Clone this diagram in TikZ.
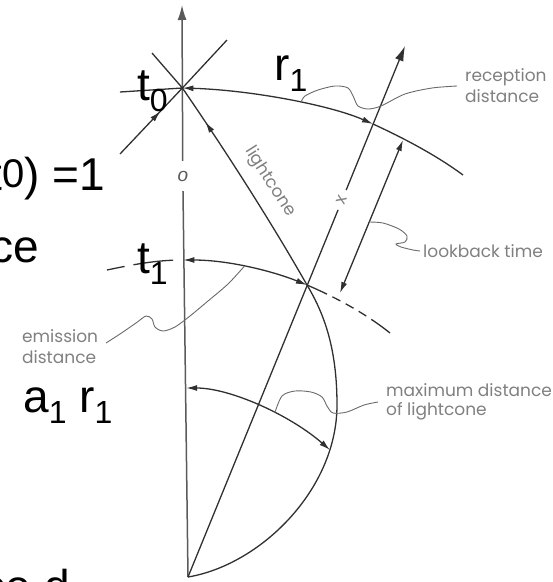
\documentclass[tikz,border=0pt]{standalone}
\usepackage{fontspec}
\setmainfont{Liberation Sans}
\newfontfamily\labfont{Poppins}
\usetikzlibrary{arrows.meta,decorations.markings,calc}
\definecolor{lc}{HTML}{303030}
\definecolor{axc}{HTML}{5a5a5a}
\definecolor{tc}{HTML}{808080}
\definecolor{ldc}{HTML}{6a6a6a}
\newcommand{\mysub}[1]{\raisebox{-11pt}{\fontsize{32}{32}\selectfont #1}}
\tikzset{Hd/.tip={Latex[length=11pt,width=6pt]},Hb/.tip={Latex[length=15pt,width=9pt]}}
\begin{document}
\begin{tikzpicture}[x=1pt,y=-1pt,
 ln/.style={draw=lc,line width=1.3pt},
 axl/.style={draw=axc,line width=1.5pt},
 ld/.style={draw=ldc,line width=0.9pt},
 big/.style={font=\fontsize{46}{50}\selectfont,inner sep=0pt,text=black},
 lab/.style={font=\labfont\fontsize{17}{21}\selectfont,text=tc,inner sep=0pt,align=left},
 markarr/.style={postaction={decorate},decoration={markings,mark=at position #1 with {\arrow{Hd}}}},
]
\useasboundingbox (0,0) rectangle (553,582);
% points
\coordinate (O) at (188,577);
\coordinate (T0) at (182.4,88);
\coordinate (AxTop) at (182,5);
\coordinate (E) at (307,285);
\coordinate (M) at (337,405);
\coordinate (Wtip) at (405,46);
\coordinate (X1) at (373,124);
\coordinate (R2) at (463,175);
\coordinate (A1) at (183.3,260);
\coordinate (A2) at (186.2,388);
\coordinate (Mx) at (330,450);
\coordinate (Et) at (390,333);
\coordinate (Lt) at (107,270);
\coordinate (C1) at (120,154);
\coordinate (C2) at (227,40);
\coordinate (C3) at (152,53);
\coordinate (C4) at (120,92);
\coordinate (LB1) at (403,140);
\coordinate (LB2) at (340,293);
% inline labels that break lines
\node[font=\fontsize{19}{19}\selectfont\itshape,text=axc,circle,minimum size=30pt,inner sep=0pt] (olab) at (182.8,176) {o};
\node[font=\labfont\fontsize{17}{17}\selectfont,text=tc,circle,minimum size=21pt,inner sep=0pt,rotate=67.6] (xlab) at (342.1,200) {x};
% axis
\draw[axl] (O) -- (olab);
\draw[axl,-{Hb}] (olab) -- (AxTop);
% worldline
\draw[ln] (O) -- (xlab);
\draw[ln,-{Hb}] (xlab) -- (Wtip);
% lightcone
\draw[ln,markarr=-41pt] (O) .. controls (260,565) and (337,490) .. (M)
   .. controls (337,350) and (325,315) .. (E)
   .. controls (270,220) and (225,150) .. (T0);
% cross at t0
\draw[ln,markarr=-32pt] (C1) -- (T0);
\draw[ln] (T0) -- (C2);
\draw[ln] (T0) -- (C3);
\draw[ln] (C4) -- (T0);
% reception distance
\draw[ln,{Hd}-{Hd}] (T0) .. controls (250,90) and (330,105) .. coordinate[pos=0.57] (RT) (X1);
\draw[ln] (X1) .. controls (410,141) and (440,158) .. (R2);
% lookback time
\draw[ln,{Hd}-{Hd}] (LB1) -- coordinate[pos=0.536] (LBT) (LB2);
% emission
\draw[ln,{Hd}-{Hd}] (A1) .. controls (230,260) and (275,272) .. coordinate[pos=0.45] (ET) (E);
\draw[ln,dash pattern=on 22pt off 6pt on 9pt off 6pt on 9pt off 6pt on 9pt off 6pt on 30pt] (E) .. controls (335,297) and (365,313) .. (Et);
\draw[ln,dash pattern=on 18pt off 9pt on 40pt] (Lt) .. controls (140,263) and (160,260) .. (A1);
% maximum distance
\draw[ln,{Hd}-{Hd}] (A2) .. controls (230,388) and (290,415) .. coordinate[pos=0.6] (MT) (Mx);
% small labels
\node[lab,anchor=west] (reclab) at (465,86) {reception\\distance};
\node[lab,anchor=west] (lblab) at (423,251) {lookback time};
\node[lab,anchor=west] (emlab) at (22,347) {emission\\distance};
\node[lab,anchor=west,font=\labfont\fontsize{17}{18.5}\selectfont] (mxlab) at (386,402) {maximum distance\\of lightcone};
\node[lab,rotate=-57.6] (lclab) at (270,182) {lightcone};
\coordinate (RE) at ([xshift=-8pt]reclab.west);
\coordinate (LE) at ([xshift=-3pt]lblab.west);
\coordinate (EE) at (106,343);
\coordinate (ME) at ([xshift=-8pt]mxlab.west);
% leaders
\draw[ld] plot[smooth] coordinates {(RT) (305,96) (318,90) (335,86) (348,88) (354,98) (358,106) (368,109) (381,106) (405,94) (432,88) (RE)};
\draw[ld] plot[smooth] coordinates {(LBT) (383,223) (399,229) (407,236) (405,242) (396,244) (401,247) (413,250) (LE)};
\draw[ld] plot[smooth] coordinates {(ET) (228,284) (208,301) (190,316) (175,327) (163,331) (155,327) (152,319) (146,316) (136,323) (120,334) (EE)};
\draw[ld] plot[smooth] coordinates {(MT) (282,396) (295,391) (311,392) (322,397) (327,406) (333,413) (347,412) (364,405) (ME)};
% big text
\node[big,anchor=base west] (t0lab) at (137,100) {t\mysub{0}};
\node[big,anchor=base west] (r1lab) at (274,80) {r\mysub{1}};
\node[big,anchor=base west] (t1lab) at (137,273) {t\mysub{1}};
\node[big,anchor=base west] (arlab) at (23,412) {a\mysub{1} r\mysub{1}};
\node[big,anchor=base east] (eqlab) at (105,190) {t\raisebox{3pt}{\fontsize{40}{40}\selectfont 0}) =1};
\node[big,anchor=base east] (celab) at (39,262) {ce};
\node[big,anchor=base east] (cedlab) at (70,602) {ce d};
\end{tikzpicture}
\end{document}
